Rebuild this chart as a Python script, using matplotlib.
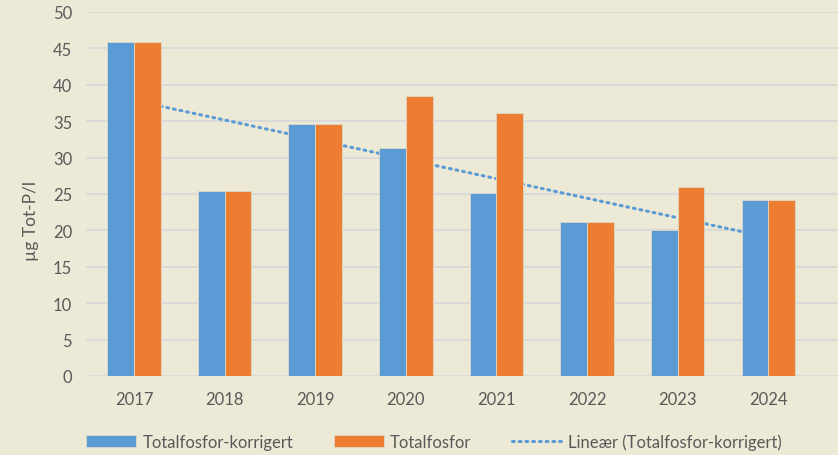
import numpy as np
import matplotlib.pyplot as plt

years = ['2017', '2018', '2019', '2020', '2021', '2022', '2023', '2024']
korrigert = [45.9, 25.4, 34.6, 31.3, 25.1, 21.1, 20.0, 24.2]
totalfosfor = [45.9, 25.4, 34.6, 38.4, 36.1, 21.1, 25.9, 24.2]

bg = '#ECEAD7'
blue = '#5B9BD5'
orange = '#ED7D31'
txt = '#595959'

plt.rcParams['font.family'] = ['Lato', 'DejaVu Sans']

fig = plt.figure(figsize=(8.38, 4.56), dpi=100)
fig.patch.set_facecolor(bg)
ax = fig.add_axes([86 / 838, 79 / 456, 1 - 86 / 838, 364 / 456])
ax.set_facecolor(bg)

x = np.arange(len(years))
w = 0.295

# trendline (Excel-style linear fit), drawn behind bars
k, m = np.polyfit(x, korrigert, 1)
trend_line, = ax.plot(x, k * x + m, linestyle=(0, (0.6, 1.6)), dash_capstyle='round',
                      color=blue, lw=2.2, zorder=1, label='Lineær (Totalfosfor-korrigert)')

b1 = ax.bar(x - w / 2, korrigert, w, color=blue, edgecolor='#DCD9C8', lw=0.6, zorder=2,
            label='Totalfosfor-korrigert')
b2 = ax.bar(x + w / 2, totalfosfor, w, color=orange, edgecolor='#DCD9C8', lw=0.6, zorder=2,
            label='Totalfosfor')

ax.set_ylim(0, 50)
ax.set_yticks(range(0, 51, 5))
ax.set_xlim(-0.53, 7.77)
ax.set_xticks(x)
ax.set_xticklabels(years)
ax.grid(axis='y', color='#D9D9D9', lw=1.3, zorder=0)
ax.set_axisbelow(True)
for s in ax.spines.values():
    s.set_visible(False)
ax.tick_params(length=0, colors=txt, labelsize=12)
ax.tick_params(axis='x', pad=11)
ax.tick_params(axis='y', pad=10)
ax.set_ylabel('µg Tot-P/l', color=txt, fontsize=12.5)
ax.yaxis.set_label_coords(-47 / 752, (377 - 221) / 364)

leg = fig.legend(handles=[b1, b2, trend_line], loc='center', bbox_to_anchor=(0.518, 0.03),
                 ncol=3, frameon=False, fontsize=12, handlelength=3.0, columnspacing=2.4,
                 handletextpad=0.4)
for t in leg.get_texts():
    t.set_color(txt)

fig.savefig('out.png', dpi=100, facecolor=bg)
